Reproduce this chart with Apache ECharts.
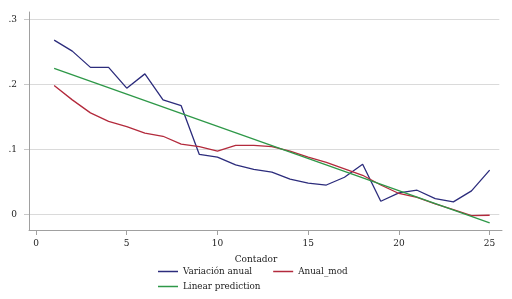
<!DOCTYPE html>
<html>
<head>
<meta charset="utf-8">
<script src="https://cdn.jsdelivr.net/npm/echarts@6/dist/echarts.min.js"></script>
<style>
  html, body { margin: 0; padding: 0; background: #fff; }
  #chart { width: 512px; height: 299px; }
</style>
</head>
<body>
<div id="chart"></div>
<script>
// datos
const contador = [1, 2, 3, 4, 5, 6, 7, 8, 9, 10, 11, 12, 13, 14, 15, 16, 17, 18, 19, 20, 21, 22, 23, 24, 25];
const variacionAnual = [0.268, 0.251, 0.226, 0.226, 0.194, 0.216, 0.176, 0.167, 0.092, 0.088, 0.076, 0.069, 0.065,
  0.054, 0.048, 0.045, 0.057, 0.077, 0.020, 0.033, 0.037, 0.024, 0.019, 0.036, 0.068];
const anualMod = [0.198, 0.176, 0.156, 0.143, 0.135, 0.125, 0.120, 0.108, 0.104, 0.097, 0.106, 0.106, 0.104,
  0.097, 0.088, 0.080, 0.070, 0.060, 0.045, 0.032, 0.026, 0.016, 0.007, -0.002, -0.0015];
const linearX = [1, 25];
const linearY = [0.2246, -0.0133];
const yTicks = [0, 0.1, 0.2, 0.3];
const xTicks = [0, 5, 10, 15, 20, 25];

const FONT = "DejaVu Serif";
const colores = { azul: "#2c2c7c", rojo: "#b32a3c", verde: "#2e9848" };

const chart = echarts.init(document.getElementById("chart"));

const pares = (xs, ys) => xs.map((x, i) => [x, ys[i]]);

const option = {
  animation: false,
  textStyle: { fontFamily: FONT, color: "#222" },
  title: {
    text: "Contador",
    left: "center",
    top: 250,
    textStyle: { fontFamily: FONT, fontSize: 9, fontWeight: "normal", color: "#222" },
  },
  legend: [
    {
      left: 158, top: 267, padding: 0, itemWidth: 20, itemHeight: 1.5, itemGap: 21, icon: "rect",
      textStyle: { fontFamily: FONT, fontSize: 8.8, color: "#222" },
      data: ["Variación anual", "Anual_mod"],
    },
    {
      left: 158, top: 282, padding: 0, itemWidth: 20, itemHeight: 1.5, icon: "rect",
      textStyle: { fontFamily: FONT, fontSize: 8.8, color: "#222" },
      data: ["Linear prediction"],
    },
  ],
  grid: [
    { left: 29, right: 10, top: 12, bottom: 69 },      // datos + lineas de ejes
    { left: 36, right: 22.4, top: 12, bottom: 69 },    // etiquetas eje x
    { left: 29, right: 12.7, top: 19.3, bottom: 84.7 }, // etiquetas eje y + rejilla
  ],
  xAxis: [
    {
      gridIndex: 0, type: "value", min: -0.386, max: 25.68,
      axisLine: { show: true, onZero: false, lineStyle: { color: "#a0a0a0" } },
      axisTick: { show: false }, axisLabel: { show: false }, splitLine: { show: false },
    },
    {
      gridIndex: 1, type: "value", min: 0, max: 25, interval: 5,
      axisLine: { show: false, onZero: false },
      axisTick: { show: true, length: 5, lineStyle: { color: "#a0a0a0" } },
      axisLabel: { fontFamily: FONT, fontSize: 9, color: "#222", margin: 9,
        formatter: (v) => (xTicks.includes(v) ? String(v) : "") },
      splitLine: { show: false },
    },
    { gridIndex: 2, type: "value", show: false },
  ],
  yAxis: [
    {
      gridIndex: 0, type: "value", min: -0.0242, max: 0.3112,
      axisLine: { show: true, onZero: false, lineStyle: { color: "#a0a0a0" } },
      axisTick: { show: false }, axisLabel: { show: false }, splitLine: { show: false },
    },
    { gridIndex: 1, type: "value", show: false },
    {
      gridIndex: 2, type: "value", min: 0, max: 0.3, interval: 0.1,
      axisLine: { show: false, onZero: false },
      axisTick: { show: true, length: 5, lineStyle: { color: "#c8c8c8" } },
      axisLabel: { fontFamily: FONT, fontSize: 9, color: "#222", margin: 12,
        formatter: (v) => {
          const t = yTicks.find((k) => Math.abs(k - v) < 1e-9);
          if (t === undefined) return "";
          return t === 0 ? "0" : t.toFixed(1).replace(/^0/, "");
        } },
      splitLine: { show: true, lineStyle: { color: "#dadada", width: 1 } },
    },
  ],
  series: [
    {
      name: "Variación anual", type: "line", xAxisIndex: 0, yAxisIndex: 0,
      data: pares(contador, variacionAnual), symbol: "none",
      lineStyle: { color: colores.azul, width: 1.3 }, itemStyle: { color: colores.azul },
    },
    {
      name: "Anual_mod", type: "line", xAxisIndex: 0, yAxisIndex: 0,
      data: pares(contador, anualMod), symbol: "none",
      lineStyle: { color: colores.rojo, width: 1.3 }, itemStyle: { color: colores.rojo },
    },
    {
      name: "Linear prediction", type: "line", xAxisIndex: 0, yAxisIndex: 0,
      data: pares(linearX, linearY), symbol: "none",
      lineStyle: { color: colores.verde, width: 1.3 }, itemStyle: { color: colores.verde },
    },
  ],
};

chart.setOption(option);
</script>
</body>
</html>
